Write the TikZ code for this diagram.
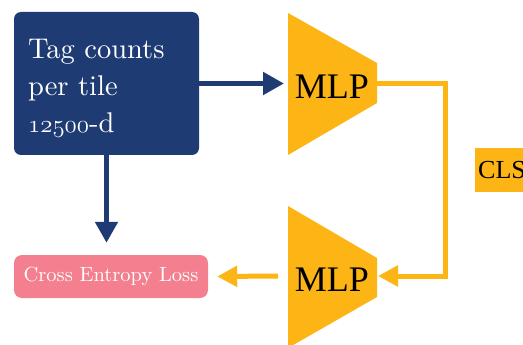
\documentclass[tikz,border=0pt]{standalone}
\usepackage{fontspec}
\newfontfamily\tms{Liberation Serif}
\newfontfamily\lmten{lmroman10-regular.otf}
\newcommand\osnum[1]{{\fontencoding{OML}\fontfamily{cmm}\fontseries{m}\fontshape{it}\selectfont #1}}
\usetikzlibrary{arrows.meta}
\definecolor{navy}{HTML}{1F3B73}
\definecolor{gold}{HTML}{FDB515}
\definecolor{pinkish}{HTML}{F4808F}
\tikzset{
  navyline/.style={draw=navy,line width=5pt,-{Triangle[length=21pt,width=22pt]}},
  goldline/.style={draw=gold,line width=5pt},
  goldarrow/.style={goldline,-{Triangle[length=20pt,width=20pt]}},
  mlpshape/.style={fill=gold},
  mlptext/.style={font=\tms\fontsize{36}{40}\selectfont,inner sep=0pt},
}
\begin{document}
\begin{tikzpicture}[x=1pt,y=-1pt]
\useasboundingbox (0,0) rectangle (523,345);
\clip (0,0) rectangle (523,345);
\fill[white] (0,0) rectangle (523,345);
% input box
\node[fill=navy,rounded corners=7pt,minimum width=185pt,minimum height=143pt,inner sep=0pt] (tag) at (106.5,83.5) {};
\node[anchor=base west,text=white,align=left,inner sep=0pt,font=\lmten\fontsize{28.5}{37.5}\selectfont] (tagtxt) at (28,133) {Tag counts\\per tile\\\osnum{12500}-d};
% MLP 1
\fill[mlpshape] (288,13) -- (377,63) -- (377,103) -- (288,155) -- cycle;
\node[mlptext] (mlpa) at (332,87) {MLP};
\coordinate (mlpaw) at (284,83.5);
\coordinate (mlpae) at (377,83.5);
% MLP 2
\fill[mlpshape] (288,206) -- (377,258) -- (377,297) -- (288,348) -- cycle;
\node[mlptext] (mlpb) at (332,280) {MLP};
\coordinate (mlpbe) at (378,276);
\coordinate (mlpbw) at (278,276);
\coordinate (turn) at (445,83.5);
% CLS
\node[fill=gold,anchor=north west,minimum width=60pt,minimum height=44pt,inner sep=0pt] (cls) at (475,148) {};
\node[anchor=base west,inner sep=0pt,font=\tms\fontsize{26}{28}\selectfont] (clstxt) at (478,178.5) {CLS};
% loss
\node[fill=pinkish,rounded corners=8pt,minimum width=194pt,minimum height=43pt,inner sep=0pt,text=white,font=\lmten\fontsize{20.5}{22}\selectfont] (loss) at (111,276.5) {Cross Entropy Loss};
\coordinate (lossin) at (tag.south |- loss.north);
% connectors
\draw[navyline] (tag.east) -- (mlpaw);
\draw[navyline,shorten >=12pt] (tag.south) -- (lossin);
\draw[goldarrow,line join=miter] (mlpae) -- (turn) |- (mlpbe);
\draw[goldarrow] (mlpbw) -- ([xshift=9pt]loss.east);
\end{tikzpicture}
\end{document}
